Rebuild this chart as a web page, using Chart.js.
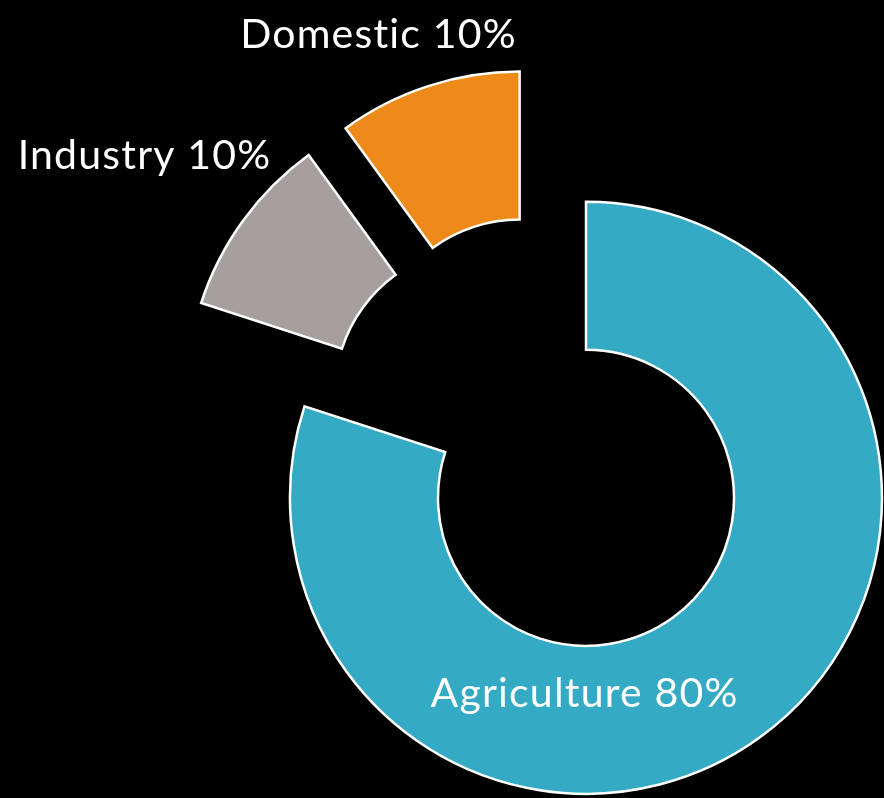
<!DOCTYPE html>
<html>
<head>
<meta charset="utf-8">
<script src="https://cdn.jsdelivr.net/npm/chart.js@4.4.1/dist/chart.umd.min.js"></script>
<style>
  html, body { margin: 0; padding: 0; background: #000; }
  #wrap { width: 884px; height: 798px; position: relative; }
</style>
</head>
<body>
<div id="wrap"><canvas id="c"></canvas></div>
<script>
const categories = ['Agriculture', 'Industry', 'Domestic'];
const shares = [80, 10, 10];
const sliceColors = ['#34AAC4', '#A69F9E', '#EE8A19'];

// every slice is pulled out along its own bisector by the same distance
const EXPLODE = 74;
const baseArcDraw = Chart.ArcElement.prototype.draw;
Chart.ArcElement.prototype.draw = function (ctx) {
  const half = (this.startAngle + this.endAngle) / 2;
  ctx.save();
  ctx.translate(Math.cos(half) * EXPLODE, Math.sin(half) * EXPLODE);
  baseArcDraw.call(this, ctx);
  ctx.restore();
};

// label placements relative to chart center
const labelPlacement = [
  { dx: 42, dy: 269 },
  { dx: -398, dy: -269 },
  { dx: -164, dy: -390 }
];

const labelPlugin = {
  id: 'sliceLabels',
  afterDatasetsDraw(chart) {
    const ctx = chart.ctx;
    const meta = chart.getDatasetMeta(0);
    const arc0 = meta.data[0];
    const cx = arc0.x, cy = arc0.y;
    ctx.save();
    ctx.fillStyle = '#ffffff';
    ctx.font = '400 41px Lato, "Open Sans", sans-serif';
    if ('letterSpacing' in ctx) ctx.letterSpacing = '1.2px';
    ctx.textAlign = 'center';
    ctx.textBaseline = 'alphabetic';
    categories.forEach((name, i) => {
      const p = labelPlacement[i];
      ctx.fillText(name + ' ' + shares[i] + '%', cx + p.dx, cy + p.dy);
    });
    ctx.restore();
  }
};

new Chart(document.getElementById('c'), {
  type: 'doughnut',
  data: {
    labels: categories,
    datasets: [{
      data: shares,
      backgroundColor: sliceColors,
      borderColor: '#ffffff',
      borderWidth: 2.5,
      borderJoinStyle: 'miter',
      offset: 0,
      hoverOffset: 0
    }]
  },
  options: {
    responsive: true,
    maintainAspectRatio: false,
    animation: false,
    radius: 296,
    cutout: '50%',
    layout: { padding: { left: 201, top: 78, right: 0, bottom: 0 } },
    plugins: {
      legend: { display: false },
      tooltip: { enabled: false }
    },
    events: []
  },
  plugins: [labelPlugin]
});
</script>
</body>
</html>
